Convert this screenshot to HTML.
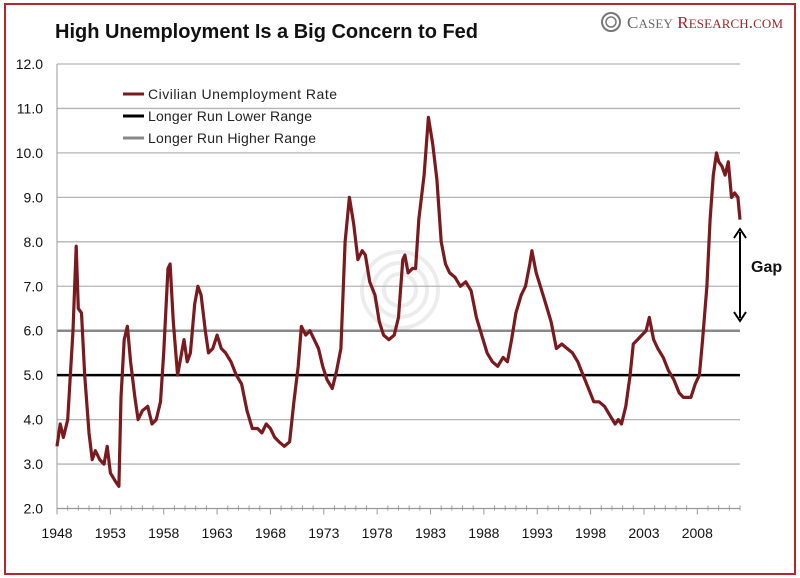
<!DOCTYPE html>
<html><head><meta charset="utf-8"><style>
body{margin:0;background:#fff}
svg{display:block;font-family:"Liberation Sans",sans-serif}
</style></head><body>
<svg id="c" width="800" height="578" viewBox="0 0 800 578">
<rect x="5" y="4" width="790" height="570" fill="#fff" stroke="#b8262c" stroke-width="2"/>
<text x="55" y="38" font-size="20" font-weight="bold" fill="#111" textLength="423">High Unemployment Is a Big Concern to Fed</text>
<g>
<circle cx="611" cy="22" r="9" fill="none" stroke="#777" stroke-width="2"/>
<circle cx="611" cy="22" r="5" fill="none" stroke="#777" stroke-width="1.5"/>
<text x="627" y="28" font-family="Liberation Serif,serif" font-size="17" fill="#666" textLength="156">C<tspan font-size="13">ASEY</tspan> <tspan fill="#a0262c">R<tspan font-size="13">ESEARCH</tspan>.<tspan font-size="13">COM</tspan></tspan></text>
</g>
<g fill="none" stroke="#ececec" stroke-width="4">
<circle cx="400" cy="290" r="38"/><circle cx="400" cy="290" r="27"/><circle cx="400" cy="290" r="16"/>
</g>
<g id="grid"></g>
<g id="axes"></g>
<g id="series"></g>
<g font-size="14" fill="#222">
<line x1="123" y1="94" x2="144" y2="94" stroke="#7b1a1e" stroke-width="3"/>
<text x="148" y="99" textLength="189">Civilian Unemployment Rate</text>
<line x1="123" y1="116" x2="144" y2="116" stroke="#000" stroke-width="3"/>
<text x="148" y="121" textLength="164">Longer Run Lower Range</text>
<line x1="123" y1="138" x2="144" y2="138" stroke="#888" stroke-width="3"/>
<text x="148" y="143" textLength="168">Longer Run Higher Range</text>
</g>
<g>
<line x1="740" y1="232" x2="740" y2="318" stroke="#000" stroke-width="2"/>
<polyline points="734,238 740,229 746,238" fill="none" stroke="#000" stroke-width="2"/>
<polyline points="734,312 740,321 746,312" fill="none" stroke="#000" stroke-width="2"/>
<text x="751" y="272" font-size="16" font-weight="bold" fill="#111">Gap</text>
</g>
</svg>
<script>
const yTicks=[2,3,4,5,6,7,8,9,10,11,12];
const xTickYears=[1948,1953,1958,1963,1968,1973,1978,1983,1988,1993,1998,2003,2008];
const lowerRange=5.0;
const higherRange=6.0;
const years=[1948.0,1948.3,1948.6,1949.0,1949.5,1949.8,1950.0,1950.3,1950.6,1951.0,1951.3,1951.6,1952.0,1952.4,1952.7,1953.0,1953.5,1953.8,1954.0,1954.3,1954.6,1954.9,1955.3,1955.6,1956.0,1956.5,1956.9,1957.3,1957.7,1958.0,1958.4,1958.6,1958.9,1959.3,1959.6,1959.9,1960.2,1960.5,1960.9,1961.2,1961.5,1961.9,1962.2,1962.6,1963.0,1963.4,1963.8,1964.3,1964.8,1965.3,1965.8,1966.3,1966.8,1967.2,1967.6,1968.0,1968.4,1968.8,1969.3,1969.8,1970.2,1970.6,1970.9,1971.3,1971.7,1972.1,1972.5,1972.9,1973.3,1973.8,1974.2,1974.6,1975.0,1975.4,1975.8,1976.2,1976.6,1976.9,1977.3,1977.8,1978.2,1978.6,1979.1,1979.6,1980.0,1980.4,1980.6,1980.9,1981.3,1981.6,1981.9,1982.4,1982.8,1983.2,1983.6,1984.0,1984.4,1984.8,1985.3,1985.8,1986.3,1986.8,1987.3,1987.8,1988.3,1988.8,1989.3,1989.8,1990.2,1990.6,1991.0,1991.5,1991.9,1992.3,1992.5,1992.9,1993.3,1993.8,1994.3,1994.8,1995.3,1995.8,1996.3,1996.8,1997.3,1997.8,1998.3,1998.8,1999.3,1999.8,2000.3,2000.6,2000.9,2001.3,2001.7,2002.0,2002.4,2002.8,2003.2,2003.5,2003.9,2004.3,2004.8,2005.3,2005.8,2006.3,2006.7,2007.0,2007.4,2007.8,2008.2,2008.5,2008.9,2009.2,2009.5,2009.8,2010.0,2010.3,2010.6,2010.9,2011.2,2011.5,2011.8,2012.0];
const rates=[3.4,3.9,3.6,4.0,6.0,7.9,6.5,6.4,5.0,3.7,3.1,3.3,3.1,3.0,3.4,2.8,2.6,2.5,4.5,5.8,6.1,5.3,4.5,4.0,4.2,4.3,3.9,4.0,4.4,5.5,7.4,7.5,6.2,5.0,5.4,5.8,5.3,5.5,6.6,7.0,6.8,6.0,5.5,5.6,5.9,5.6,5.5,5.3,5.0,4.8,4.2,3.8,3.8,3.7,3.9,3.8,3.6,3.5,3.4,3.5,4.4,5.2,6.1,5.9,6.0,5.8,5.6,5.2,4.9,4.7,5.1,5.6,8.0,9.0,8.4,7.6,7.8,7.7,7.1,6.8,6.2,5.9,5.8,5.9,6.3,7.6,7.7,7.3,7.4,7.4,8.5,9.5,10.8,10.2,9.4,8.0,7.5,7.3,7.2,7.0,7.1,6.9,6.3,5.9,5.5,5.3,5.2,5.4,5.3,5.8,6.4,6.8,7.0,7.5,7.8,7.3,7.0,6.6,6.2,5.6,5.7,5.6,5.5,5.3,5.0,4.7,4.4,4.4,4.3,4.1,3.9,4.0,3.9,4.3,5.0,5.7,5.8,5.9,6.0,6.3,5.8,5.6,5.4,5.1,4.9,4.6,4.5,4.5,4.5,4.8,5.0,5.8,7.0,8.5,9.5,10.0,9.8,9.7,9.5,9.8,9.0,9.1,9.0,8.5];
const X0=57,X1=740,Y0=508.5,Y1=64;
const xs=t=>X0+(t-1948)*(X1-X0)/64;
const ys=v=>Y0-(v-2)*(Y0-Y1)/10;
const NS='http://www.w3.org/2000/svg';
function mk(tag,attrs,parent){const e=document.createElementNS(NS,tag);for(const k in attrs)e.setAttribute(k,attrs[k]);parent.appendChild(e);return e;}
const grid=document.getElementById('grid'),axes=document.getElementById('axes'),ser=document.getElementById('series');
yTicks.forEach(v=>{
  if(v>2){const g=mk('line',{x1:X0,x2:X1,y1:ys(v),y2:ys(v),stroke:'#b4b4b4','stroke-width':1.3},grid);
  
  }
  const t=mk('text',{x:43,y:ys(v)+5,'text-anchor':'end','font-size':14,fill:'#111'},axes);
  t.textContent=v.toFixed(1);
  
  
});
const ax=mk('line',{x1:X0,x2:X0,y1:Y1,y2:Y0,stroke:'#999','stroke-width':1},axes);


const bx=mk('line',{x1:X0,x2:X1,y1:Y0,y2:Y0,stroke:'#999','stroke-width':1.3},axes);


for(let y=1948;y<=2012;y++){
  const major=(y-1948)%5===0;
  mk('line',{x1:xs(y),x2:xs(y),y1:Y0-(major?0:3),y2:Y0+(major?6:2),stroke:'#999','stroke-width':1},axes);
}
xTickYears.forEach(y=>{
  const t=mk('text',{x:xs(y),y:538,'text-anchor':'middle','font-size':14,fill:'#111'},axes);
  t.textContent=y;
  
  
});
const hi=mk('line',{x1:X0,x2:X1,y1:ys(higherRange),y2:ys(higherRange),stroke:'#888','stroke-width':2.5},ser);


const lo=mk('line',{x1:X0,x2:X1,y1:ys(lowerRange),y2:ys(lowerRange),stroke:'#000','stroke-width':2.5},ser);


const pts=years.map((t,i)=>xs(t).toFixed(1)+','+ys(rates[i]).toFixed(1)).join(' ');
const pl=mk('polyline',{points:pts,fill:'none',stroke:'#7b1a1e','stroke-width':3.2,'stroke-linejoin':'round'},ser);


</script>
</body></html>
